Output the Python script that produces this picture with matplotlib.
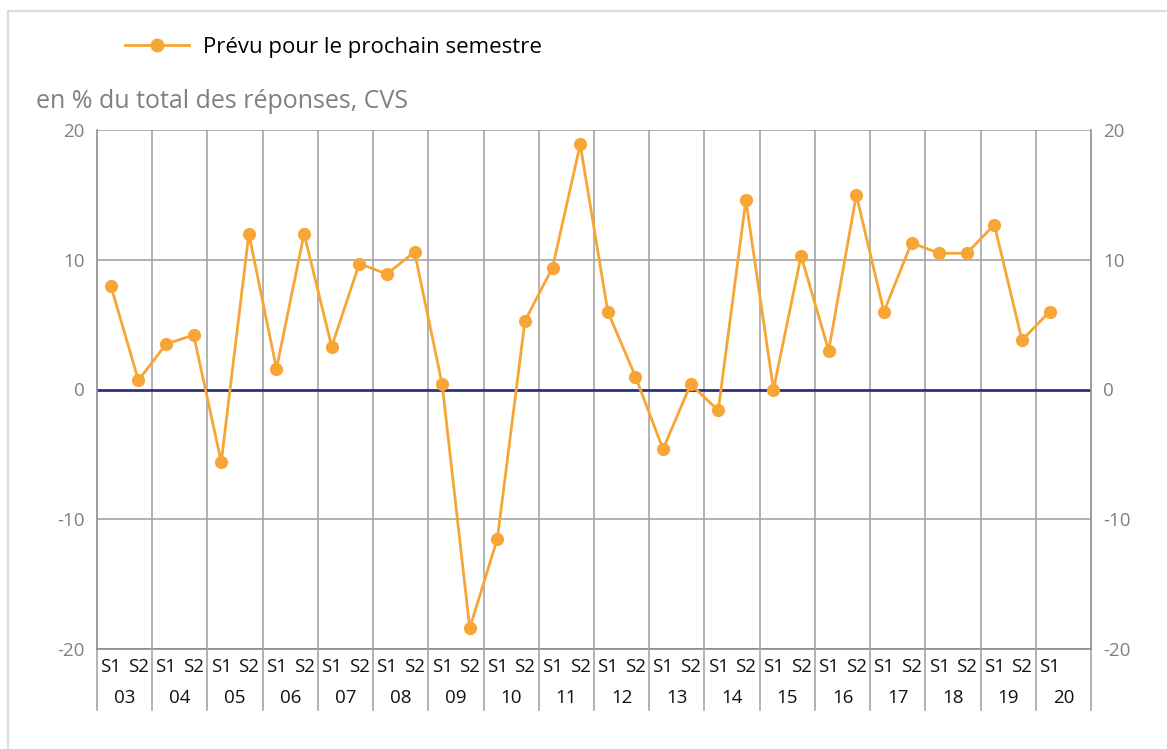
import matplotlib
matplotlib.use("Agg")
import matplotlib.pyplot as plt
from matplotlib.lines import Line2D
from matplotlib.patches import Rectangle
import matplotlib.transforms as mtransforms

plt.rcParams['font.family'] = ['Open Sans', 'DejaVu Sans']

years = ['03', '04', '05', '06', '07', '08', '09', '10', '11', '12',
         '13', '14', '15', '16', '17', '18', '19', '20']
semesters = ['S1', 'S2']
values = [8.0, 0.7, 3.5, 4.2, -5.6, 12.0, 1.6, 12.0, 3.3, 9.7,
          8.9, 10.6, 0.4, -18.4, -11.5, 5.3, 9.4, 18.9, 6.0, 1.0,
          -4.6, 0.4, -1.6, 14.6, 0.0, 10.3, 3.0, 15.0, 6.0, 11.3,
          10.5, 10.5, 12.7, 3.8, 6.0]
series_label = 'Prévu pour le prochain semestre'
unit_label = 'en % du total des réponses, CVS'
yticks = [-20, -10, 0, 10, 20]

W, H = 1167, 749
fig = plt.figure(figsize=(W / 100, H / 100), dpi=100)

# outer light border
fig.patches.append(Rectangle((8 / W, -0.1), 1.2, 1 - 11 / H + 0.1, transform=fig.transFigure,
                             fill=False, edgecolor='#dddddd', linewidth=1.5))

L, R, T, B = 97, 1091, 130, 649
ax = fig.add_axes([L / W, 1 - B / H, (R - L) / W, (B - T) / H])

nslots = len(years) * 2
x = [i + 0.5 for i in range(len(values))]
orange = '#f7a535'
grid_c = '#a6a6a6'

ax.set_xlim(0, nslots)
ax.set_ylim(-20, 20)

# grid
for yv in yticks:
    if yv != 0:
        ax.axhline(yv, color=grid_c, lw=1.2, zorder=1)
for k in range(1, len(years)):
    ax.axvline(2 * k, color=grid_c, lw=1.2, zorder=1)
ax.axhline(0, color='#2b2f86', lw=2.0, zorder=2)

ax.plot(x, values, color=orange, lw=2.0, marker='o', markersize=9.5,
        markeredgewidth=0, zorder=3)

for s in ['top', 'bottom']:
    ax.spines[s].set_visible(False)
ax.spines['left'].set_color('#8c8c8c')
ax.spines['right'].set_color('#8c8c8c')
ax.spines['left'].set_linewidth(1.2)
ax.spines['right'].set_linewidth(1.2)

ax.set_yticks(yticks)
ax.set_yticklabels([str(v) for v in yticks])
ax.tick_params(axis='y', length=0, pad=9, labelsize=13.5, labelcolor='#808080',
               labelright=True, right=False)
ax.set_xticks([])

# category axis
trans = mtransforms.blended_transform_factory(ax.transData, ax.transAxes)
ph = B - T
ax.plot([0, nslots], [0, 0], transform=trans, color='#8c8c8c', lw=1.2, clip_on=False, zorder=2)
for k in range(len(years) + 1):
    ax.plot([2 * k, 2 * k], [0, -(710 - B) / ph], transform=trans, color='#a6a6a6',
            lw=1.2, clip_on=False)
for i in range(len(values)):
    ax.text(i + 0.5, -(667 - B) / ph, semesters[i % 2], transform=trans,
            ha='center', va='center', fontsize=13.5, color='#111111')
for k, yr in enumerate(years):
    ax.text(2 * k + 1, -(698 - B) / ph, yr, transform=trans,
            ha='center', va='center', fontsize=13.5, color='#111111')

# unit label
fig.text(36 / W, 1 - 102 / H, unit_label, ha='left', va='center',
         fontsize=18, color='#808080')

# legend
handle = Line2D([], [], color=orange, lw=2.0, marker='o', markersize=10, markeredgewidth=0)
fig.legend([handle], [series_label], loc='center left',
           bbox_to_anchor=(116 / W, 1 - 47 / H), frameon=False, fontsize=16,
           handlelength=2.9, handletextpad=0.6, borderaxespad=0)

fig.savefig('out.png', dpi=100)
